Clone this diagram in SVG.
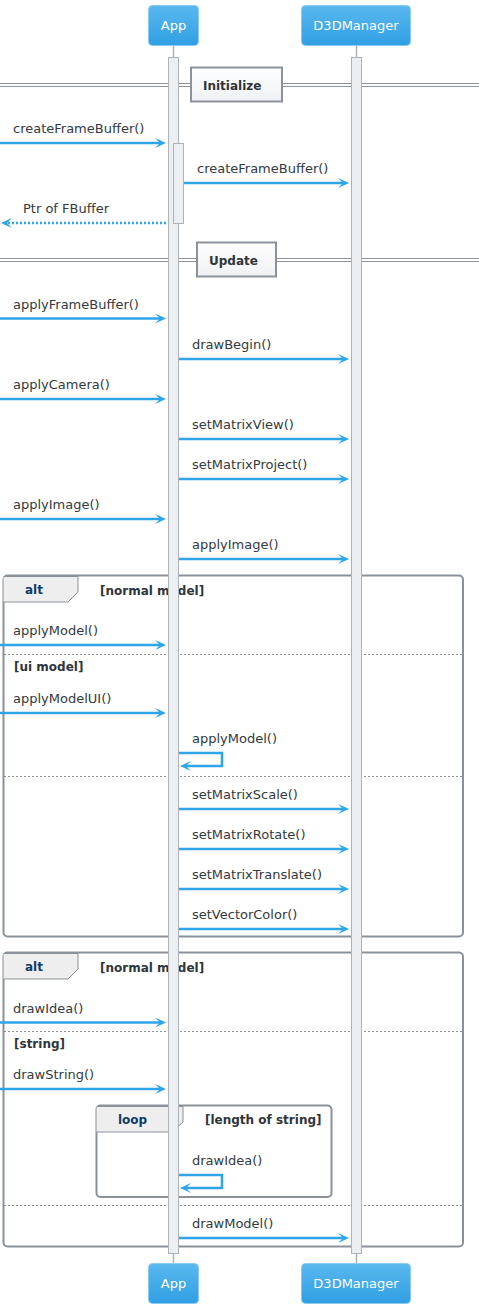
<svg xmlns="http://www.w3.org/2000/svg" width="479" height="1308" viewBox="0 0 479 1308">
<defs>
<linearGradient id="pg" x1="0" y1="0" x2="0" y2="1">
<stop offset="0" stop-color="#5ab8ee"/>
<stop offset="1" stop-color="#2f9fe4"/>
</linearGradient>
<linearGradient id="sg" x1="0" y1="0" x2="0" y2="1">
<stop offset="0" stop-color="#ffffff"/>
<stop offset="1" stop-color="#eef1f4"/>
</linearGradient>
<marker id="ah" viewBox="0 0 11 10" refX="6" refY="5" markerWidth="11" markerHeight="10" markerUnits="userSpaceOnUse" orient="auto">
<path d="M0,0 L11,5 L0,10 L5,5 Z" fill="#2ea5e8"/>
</marker>
<style>
.pbox{fill:url(#pg);stroke:#8ccbf1;stroke-width:1}
.pname{font-family:"DejaVu Sans",sans-serif;font-size:13px;fill:#ffffff;text-anchor:middle}
.life{fill:#eceff1;stroke:#adb3b8;stroke-width:1}
.stub{stroke:#adb3b8;stroke-width:1.5}
.msg{stroke:#2ea5e8;stroke-width:2.5;fill:none}
.dot{stroke-dasharray:2,2}
.lbl{font-family:"DejaVu Sans",sans-serif;font-size:13px;fill:#333a40}
.sepl{stroke:#8a939b;stroke-width:1}
.sepb{fill:url(#sg);stroke:#8a939b;stroke-width:2}
.bold{font-family:"DejaVu Sans",sans-serif;font-size:12px;font-weight:bold;fill:#30353a}
.frame{fill:none;stroke:#8a9199;stroke-width:2}
.tab{fill:#eeeeee;stroke:#8a9199;stroke-width:1}
.kw{font-family:"DejaVu Sans",sans-serif;font-size:12px;font-weight:bold;fill:#0e3c6b}
.dash{stroke:#8a9199;stroke-width:1;stroke-dasharray:2,2}
</style>
</defs>

<g id="sep-initialize">
<line class="sepl" x1="0" y1="83.5" x2="479" y2="83.5"/>
<line class="sepl" x1="0" y1="86.5" x2="479" y2="86.5"/>
<rect class="sepb" x="191" y="67.5" width="91" height="34"/>
<text class="bold" x="203" y="90">Initialize</text>
</g>
<g id="sep-update">
<line class="sepl" x1="0" y1="258.5" x2="479" y2="258.5"/>
<line class="sepl" x1="0" y1="261.5" x2="479" y2="261.5"/>
<rect class="sepb" x="197" y="242.5" width="79" height="34"/>
<text class="bold" x="209" y="265">Update</text>
</g>

<g id="alt-model">
<rect class="frame" x="3.5" y="575.5" width="459.5" height="361" rx="4"/>
<path class="tab" d="M3.5,576.5 L78,576.5 L78,592 L68,602 L3.5,602"/>
<text class="kw" x="25" y="594">alt</text>
<text class="bold" x="100" y="595">[normal model]</text>
<line class="dash" x1="4" y1="654.5" x2="462" y2="654.5"/>
<text class="bold" x="14" y="671">[ui model]</text>
<line class="dash" x1="4" y1="776.5" x2="462" y2="776.5"/>
</g>

<g id="alt-draw">
<rect class="frame" x="3.5" y="952.5" width="459.5" height="294" rx="4"/>
<path class="tab" d="M3.5,953.5 L78,953.5 L78,969 L68,979 L3.5,979"/>
<text class="kw" x="25" y="971">alt</text>
<text class="bold" x="100" y="972">[normal model]</text>
<line class="dash" x1="4" y1="1031.5" x2="462" y2="1031.5"/>
<text class="bold" x="14" y="1048">[string]</text>
<line class="dash" x1="4" y1="1205.5" x2="462" y2="1205.5"/>
</g>

<g id="loop-string">
<rect class="frame" x="96.5" y="1105.5" width="235" height="91.5" rx="4"/>
<path class="tab" d="M96.5,1106.5 L183,1106.5 L183,1122 L172,1132 L96.5,1132"/>
<text class="kw" x="118" y="1124">loop</text>
<text class="bold" x="205" y="1124">[length of string]</text>
</g>

<g id="lifelines">
<line class="stub" x1="173.5" y1="46" x2="173.5" y2="57"/>
<line class="stub" x1="356.5" y1="46" x2="356.5" y2="57"/>
<line class="stub" x1="173.5" y1="1254" x2="173.5" y2="1263"/>
<line class="stub" x1="356.5" y1="1254" x2="356.5" y2="1263"/>
<rect class="life" x="168.5" y="57.5" width="10" height="1196"/>
<rect class="life" x="351.5" y="57.5" width="10" height="1196"/>
<rect class="life" x="173.5" y="143.5" width="10" height="80"/>
</g>

<g id="App">
<rect class="pbox" x="148.5" y="5.5" width="50" height="40" rx="4"/>
<text class="pname" x="173.5" y="30">App</text>
<rect class="pbox" x="148.5" y="1263.5" width="50" height="40" rx="4"/>
<text class="pname" x="173.5" y="1288">App</text>
</g>
<g id="D3DManager">
<rect class="pbox" x="301.5" y="5.5" width="109" height="40" rx="4"/>
<text class="pname" x="356" y="30">D3DManager</text>
<rect class="pbox" x="301.5" y="1263.5" width="109" height="40" rx="4"/>
<text class="pname" x="356" y="1288">D3DManager</text>
</g>

<g id="connectors">
<line class="msg" x1="0" y1="143" x2="161" y2="143" marker-end="url(#ah)"/>
<text class="lbl" x="13" y="133">createFrameBuffer()</text>
<line class="msg" x1="184" y1="183" x2="344" y2="183" marker-end="url(#ah)"/>
<text class="lbl" x="197" y="173">createFrameBuffer()</text>
<line class="msg dot" x1="166" y1="223" x2="6" y2="223" marker-end="url(#ah)"/>
<text class="lbl" x="23" y="213">Ptr of FBuffer</text>

<line class="msg" x1="0" y1="318.5" x2="161" y2="318.5" marker-end="url(#ah)"/>
<text class="lbl" x="13" y="308.5">applyFrameBuffer()</text>
<line class="msg" x1="179" y1="359" x2="344" y2="359" marker-end="url(#ah)"/>
<text class="lbl" x="192" y="349">drawBegin()</text>
<line class="msg" x1="0" y1="399" x2="161" y2="399" marker-end="url(#ah)"/>
<text class="lbl" x="13" y="389">applyCamera()</text>
<line class="msg" x1="179" y1="439" x2="344" y2="439" marker-end="url(#ah)"/>
<text class="lbl" x="192" y="429">setMatrixView()</text>
<line class="msg" x1="179" y1="479" x2="344" y2="479" marker-end="url(#ah)"/>
<text class="lbl" x="192" y="469">setMatrixProject()</text>
<line class="msg" x1="0" y1="519" x2="161" y2="519" marker-end="url(#ah)"/>
<text class="lbl" x="13" y="509">applyImage()</text>
<line class="msg" x1="179" y1="559" x2="344" y2="559" marker-end="url(#ah)"/>
<text class="lbl" x="192" y="549">applyImage()</text>

<line class="msg" x1="0" y1="645" x2="161" y2="645" marker-end="url(#ah)"/>
<text class="lbl" x="13" y="635">applyModel()</text>
<line class="msg" x1="0" y1="713" x2="161" y2="713" marker-end="url(#ah)"/>
<text class="lbl" x="13" y="703">applyModelUI()</text>
<path class="msg" d="M179,753 L222,753 L222,766 L185,766" marker-end="url(#ah)"/>
<text class="lbl" x="192" y="743">applyModel()</text>
<line class="msg" x1="179" y1="809" x2="344" y2="809" marker-end="url(#ah)"/>
<text class="lbl" x="192" y="799">setMatrixScale()</text>
<line class="msg" x1="179" y1="849" x2="344" y2="849" marker-end="url(#ah)"/>
<text class="lbl" x="192" y="839">setMatrixRotate()</text>
<line class="msg" x1="179" y1="889" x2="344" y2="889" marker-end="url(#ah)"/>
<text class="lbl" x="192" y="879">setMatrixTranslate()</text>
<line class="msg" x1="179" y1="929" x2="344" y2="929" marker-end="url(#ah)"/>
<text class="lbl" x="192" y="919">setVectorColor()</text>

<line class="msg" x1="0" y1="1022.5" x2="161" y2="1022.5" marker-end="url(#ah)"/>
<text class="lbl" x="13" y="1012.5">drawIdea()</text>
<line class="msg" x1="0" y1="1089" x2="161" y2="1089" marker-end="url(#ah)"/>
<text class="lbl" x="13" y="1079">drawString()</text>
<path class="msg" d="M179,1175 L222,1175 L222,1188 L185,1188" marker-end="url(#ah)"/>
<text class="lbl" x="192" y="1165">drawIdea()</text>
<line class="msg" x1="179" y1="1238" x2="344" y2="1238" marker-end="url(#ah)"/>
<text class="lbl" x="192" y="1228">drawModel()</text>
</g>
</svg>
